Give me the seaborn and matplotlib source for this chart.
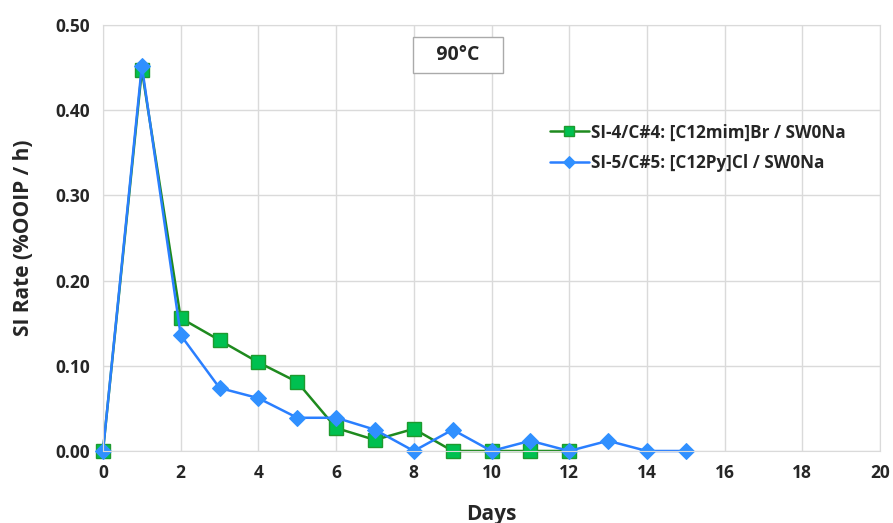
import numpy as np
import pandas as pd
import seaborn as sns
import matplotlib.pyplot as plt

days_si4 = [0, 1, 2, 3, 4, 5, 6, 7, 8, 9, 10, 11, 12]
rate_si4 = [0.0, 0.447, 0.156, 0.130, 0.104, 0.081, 0.027, 0.013, 0.026, 0.0, 0.0, 0.0, 0.0]
days_si5 = [0, 1, 2, 3, 4, 5, 6, 7, 8, 9, 10, 11, 12, 13, 14, 15]
rate_si5 = [0.0, 0.452, 0.136, 0.074, 0.062, 0.039, 0.039, 0.025, 0.0, 0.025, 0.0, 0.012, 0.0, 0.012, 0.0, 0.0]
label_si4 = "SI-4/C#4: [C12mim]Br / SW0Na"
label_si5 = "SI-5/C#5: [C12Py]Cl / SW0Na"

sns.set_style("white")
plt.rcParams['font.family'] = ['Open Sans', 'DejaVu Sans']

fig = plt.figure(figsize=(8.93, 5.23), dpi=100)
ax = fig.add_axes([103 / 893, 1 - 451 / 523, 777 / 893, 426 / 523])

df4 = pd.DataFrame({"Days": days_si4, "rate": rate_si4})
df5 = pd.DataFrame({"Days": days_si5, "rate": rate_si5})

sns.lineplot(data=df4, x="Days", y="rate", ax=ax, color="#1e8a1e", lw=1.8,
             marker="s", markersize=10, markerfacecolor="#00c050",
             markeredgecolor="#1e9a2e", markeredgewidth=1, label=label_si4)
sns.lineplot(data=df5, x="Days", y="rate", ax=ax, color="#2a7fff", lw=1.8,
             marker="D", markersize=8, markerfacecolor="#3090ff",
             markeredgecolor="#3090ff", label=label_si5)

ax.set_xlim(0, 20)
ax.set_ylim(0, 0.5)
ax.set_xticks(range(0, 21, 2))
ax.set_yticks(np.arange(0, 0.51, 0.1))
ax.set_yticklabels([f"{v:.2f}" for v in np.arange(0, 0.51, 0.1)])
ax.grid(True, color="#dadada", lw=1)
for s in ax.spines.values():
    s.set_color("#dadada")
ax.tick_params(labelsize=12.5, length=0, pad=9)
for t in ax.get_xticklabels() + ax.get_yticklabels():
    t.set_fontweight("bold")
ax.set_xlabel("Days", fontsize=15, fontweight="bold", labelpad=16)
ax.set_ylabel("SI Rate (%OOIP / h)", fontsize=15, fontweight="bold", labelpad=16)
for ln in ax.lines:
    ln.set_clip_on(False)

ax.text(0.457, 0.93, "   90°C   ", transform=ax.transAxes, ha="center", va="center",
        fontsize=14, fontweight="bold",
        bbox=dict(boxstyle="square,pad=0.4", fc="white", ec="#aaaaaa", lw=1))

leg = ax.legend(loc="upper left", bbox_to_anchor=(0.555, 0.805), frameon=False,
                handlelength=2.3, handletextpad=0.15, labelspacing=0.75, markerscale=0.75,
                prop={"weight": "bold", "size": 12.3})

fig.savefig("out.png", dpi=100)
